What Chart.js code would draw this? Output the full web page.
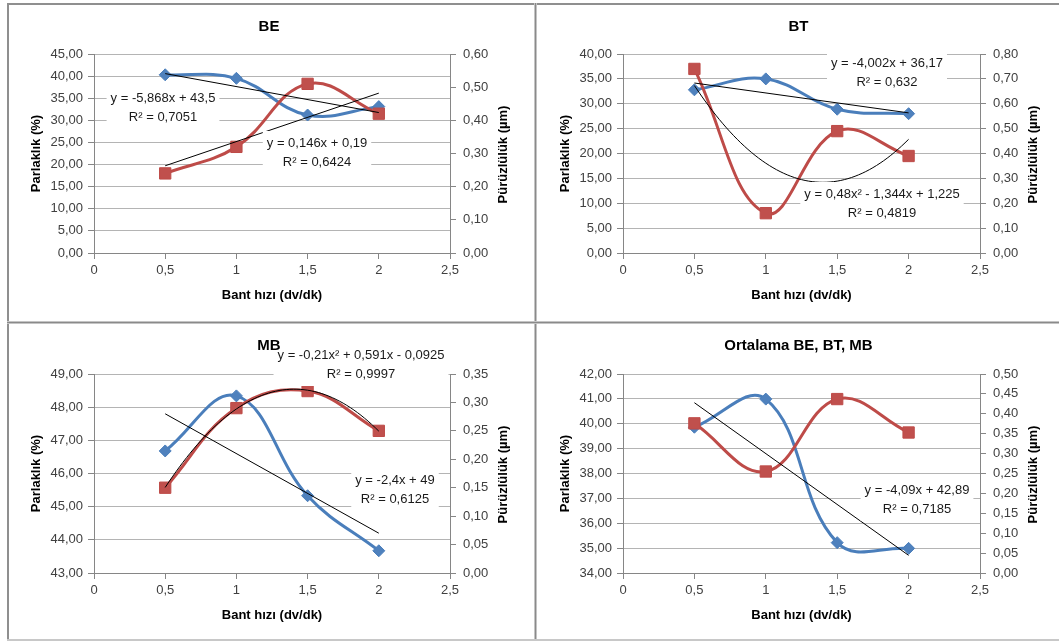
<!DOCTYPE html>
<html>
<head>
<meta charset="utf-8">
<script src="https://cdn.jsdelivr.net/npm/chart.js@4.4.1/dist/chart.umd.min.js"></script>
<style>
  body { margin: 0; background: #fff; width: 1059px; height: 641px; overflow: hidden; position: relative; }
  canvas { position: absolute; }
  .ln { position: absolute; }
</style>
</head>
<body>
<canvas id="be" width="528" height="318" style="left:8px;top:4px"></canvas>
<canvas id="bt" width="522" height="318" style="left:537px;top:4px"></canvas>
<canvas id="mb" width="528" height="318" style="left:8px;top:323px"></canvas>
<canvas id="avg" width="522" height="318" style="left:537px;top:323px"></canvas>

<div class="ln" style="left:7px;top:3px;width:1052px;height:2px;background:#8f8f8f"></div>
<div class="ln" style="left:7px;top:3px;width:2px;height:638px;background:#8f8f8f"></div>
<div class="ln" style="left:534px;top:3px;width:1px;height:638px;background:#c4c4c4"></div>
<div class="ln" style="left:535px;top:3px;width:1px;height:638px;background:#8a8a8a"></div>
<div class="ln" style="left:536px;top:3px;width:1px;height:638px;background:#c4c4c4"></div>
<div class="ln" style="left:7px;top:321px;width:1052px;height:1px;background:#c4c4c4"></div>
<div class="ln" style="left:7px;top:322px;width:1052px;height:1px;background:#8a8a8a"></div>
<div class="ln" style="left:7px;top:323px;width:1052px;height:1px;background:#c4c4c4"></div>
<div class="ln" style="left:7px;top:639px;width:1052px;height:2px;background:#c8c8c8"></div>

<script>
// Bant hızı (dv/dk)
const speeds = [0.5, 1, 1.5, 2];

// Parlaklık (%) - left axis, blue
const beGloss = [40.3, 39.5, 31.2, 33.1];
const btGloss = [32.8, 35.0, 28.9, 28.0];
const mbGloss = [46.68, 48.34, 45.33, 43.67];
const avgGloss = [39.86, 40.99, 35.22, 34.99];

// Pürüzlülük (µm) - right axis, red
const beRough = [0.24, 0.32, 0.51, 0.42];
const btRough = [0.74, 0.16, 0.49, 0.39];
const mbRough = [0.15, 0.29, 0.32, 0.25];
const avgRough = [0.376, 0.255, 0.437, 0.353];

// trendline coefficients [c0, c1, c2] as printed on the chart
const beGlossTrend = [43.5, -5.868];
const beRoughTrend = [0.19, 0.146];
const btGlossTrend = [36.17, -4.002];
const btRoughTrend = [1.225, -1.344, 0.48];
const mbGlossTrend = [49, -2.4];
const mbRoughTrend = [-0.0925, 0.591, -0.21];
const avgGlossTrend = [42.89, -4.09];

// axis ranges [min, max, step]
const beLeft = [0, 45, 5], beRight = [0, 0.6, 0.1];
const btLeft = [0, 40, 5], btRight = [0, 0.8, 0.1];
const mbLeft = [43, 49, 1], mbRight = [0, 0.35, 0.05];
const avgLeft = [34, 42, 1], avgRight = [0, 0.5, 0.05];

const FONT = '"Liberation Sans", Arial, sans-serif';
const AXIS = '#868686';
const GRID = '#b4b4b4';
const TXT = '#404040';

const fmt2 = v => Number(v).toFixed(2).replace('.', ',');
const fmtX = v => String(v).replace('.', ',');

function poly(c, x) {
  return c.reduce((s, k, i) => s + k * Math.pow(x, i), 0);
}

function trendPoints(c) {
  const lo = Math.min(...speeds), hi = Math.max(...speeds);
  const n = c.length > 2 ? 60 : 1;
  const pts = [];
  for (let i = 0; i <= n; i++) {
    const x = lo + (hi - lo) * i / n;
    pts.push({ x, y: poly(c, x) });
  }
  return pts;
}

function annot(o) {
  return {
    id: 'annot',
    afterDatasetsDraw(chart) {
      const ctx = chart.ctx, a = chart.chartArea;
      ctx.save();
      ctx.textAlign = 'center';
      ctx.textBaseline = 'middle';

      ctx.font = '13px ' + FONT;
      o.labels.forEach(l => {
        const w = Math.max(...l.lines.map(s => ctx.measureText(s).width));
        ctx.fillStyle = '#fff';
        ctx.fillRect(l.x - w / 2 - 4, l.y - 12, w + 8, 19 * (l.lines.length - 1) + 24);
        ctx.fillStyle = '#1a1a1a';
        l.lines.forEach((s, i) => ctx.fillText(s, l.x, l.y + i * 19));
      });

      ctx.fillStyle = '#000';
      ctx.font = 'bold 15px ' + FONT;
      ctx.fillText(o.title, (a.left + a.right) / 2 - 3, o.titleY);

      ctx.font = 'bold 13px ' + FONT;
      ctx.fillText('Bant hızı (dv/dk)', (a.left + a.right) / 2, a.bottom + 42);

      const midY = (a.top + a.bottom) / 2;
      ctx.save();
      ctx.translate(a.left - 58, midY);
      ctx.rotate(-Math.PI / 2);
      ctx.fillText('Parlaklık (%)', 0, 0);
      ctx.restore();

      ctx.save();
      ctx.translate(a.right + 53, midY + 1);
      ctx.rotate(-Math.PI / 2);
      ctx.fillText('Pürüzlülük (µm)', 0, 0);
      ctx.restore();

      ctx.restore();
    }
  };
}

function panel(id, o) {
  const cv = document.getElementById(id);
  const W = cv.width, H = cv.height;
  const PH = 199;
  const datasets = [];
  o.trends.forEach(t => datasets.push({
    data: trendPoints(t.coef), yAxisID: t.axis,
    borderColor: '#000', borderWidth: 1, pointRadius: 0, tension: 0, order: 0
  }));
  datasets.push({
    data: speeds.map((x, i) => ({ x, y: o.rough[i] })), yAxisID: 'y1',
    borderColor: '#BE4B48', backgroundColor: '#C0504D',
    pointBackgroundColor: '#C0504D', pointBorderColor: '#BE4B48',
    pointStyle: 'rect', pointRadius: 8, pointBorderWidth: 1,
    borderWidth: 3, tension: 0.4, order: 1
  });
  datasets.push({
    data: speeds.map((x, i) => ({ x, y: o.gloss[i] })), yAxisID: 'y',
    borderColor: '#4A7EBB', backgroundColor: '#4F81BD',
    pointBackgroundColor: '#4F81BD', pointBorderColor: '#4A7EBB',
    pointStyle: 'rectRot', pointRadius: 6, pointBorderWidth: 1,
    borderWidth: 3, tension: 0.4, order: 2
  });

  const tickFont = { family: FONT, size: 13 };

  new Chart(cv, {
    type: 'line',
    data: { datasets },
    options: {
      responsive: false,
      animation: false,
      events: [],
      layout: { padding: { top: o.top, left: 0, right: 0, bottom: 0 } },
      plugins: { legend: { display: false }, tooltip: { enabled: false }, title: { display: false } },
      scales: {
        x: {
          type: 'linear', min: 0, max: 2.5,
          ticks: { stepSize: 0.5, callback: fmtX, font: tickFont, color: TXT, padding: 4, maxRotation: 0 },
          grid: { color: 'rgba(0,0,0,0)', tickColor: AXIS, tickLength: 6 },
          border: { color: AXIS },
          afterFit: s => { s.height = H - o.top - PH; }
        },
        y: {
          position: 'left', min: o.left[0], max: o.left[1],
          ticks: { stepSize: o.left[2], callback: fmt2, font: tickFont, color: TXT, padding: 5 },
          grid: { color: GRID, tickColor: AXIS, tickLength: 6 },
          border: { color: AXIS },
          afterFit: s => { s.width = 86; }
        },
        y1: {
          position: 'right', min: o.right[0], max: o.right[1],
          ticks: { stepSize: o.right[2], callback: fmt2, font: tickFont, color: TXT, padding: 7 },
          grid: { drawOnChartArea: false, tickColor: AXIS, tickLength: 6 },
          border: { color: AXIS },
          afterFit: s => { s.width = W - 86 - o.pw; }
        }
      }
    },
    plugins: [annot(o)]
  });
}

panel('be', {
  title: 'BE', titleY: 23, top: 50, pw: 356,
  gloss: beGloss, rough: beRough, left: beLeft, right: beRight,
  trends: [{ coef: beGlossTrend, axis: 'y' }, { coef: beRoughTrend, axis: 'y1' }],
  labels: [
    { x: 155, y: 94.5, lines: ['y = -5,868x + 43,5', 'R² = 0,7051'] },
    { x: 309, y: 139, lines: ['y = 0,146x + 0,19', 'R² = 0,6424'] }
  ]
});

panel('bt', {
  title: 'BT', titleY: 23, top: 50, pw: 357,
  gloss: btGloss, rough: btRough, left: btLeft, right: btRight,
  trends: [{ coef: btGlossTrend, axis: 'y' }, { coef: btRoughTrend, axis: 'y1' }],
  labels: [
    { x: 350, y: 59, lines: ['y = -4,002x + 36,17', 'R² = 0,632'] },
    { x: 345, y: 190, lines: ['y = 0,48x² - 1,344x + 1,225', 'R² = 0,4819'] }
  ]
});

panel('mb', {
  title: 'MB', titleY: 23, top: 51, pw: 356,
  gloss: mbGloss, rough: mbRough, left: mbLeft, right: mbRight,
  trends: [{ coef: mbGlossTrend, axis: 'y' }, { coef: mbRoughTrend, axis: 'y1' }],
  labels: [
    { x: 353, y: 32, lines: ['y = -0,21x² + 0,591x - 0,0925', 'R² = 0,9997'] },
    { x: 387, y: 157, lines: ['y = -2,4x + 49', 'R² = 0,6125'] }
  ]
});

panel('avg', {
  title: 'Ortalama BE, BT, MB', titleY: 23, top: 51, pw: 357,
  gloss: avgGloss, rough: avgRough, left: avgLeft, right: avgRight,
  trends: [{ coef: avgGlossTrend, axis: 'y' }],
  labels: [
    { x: 380, y: 167, lines: ['y = -4,09x + 42,89', 'R² = 0,7185'] }
  ]
});
</script>
</body>
</html>
